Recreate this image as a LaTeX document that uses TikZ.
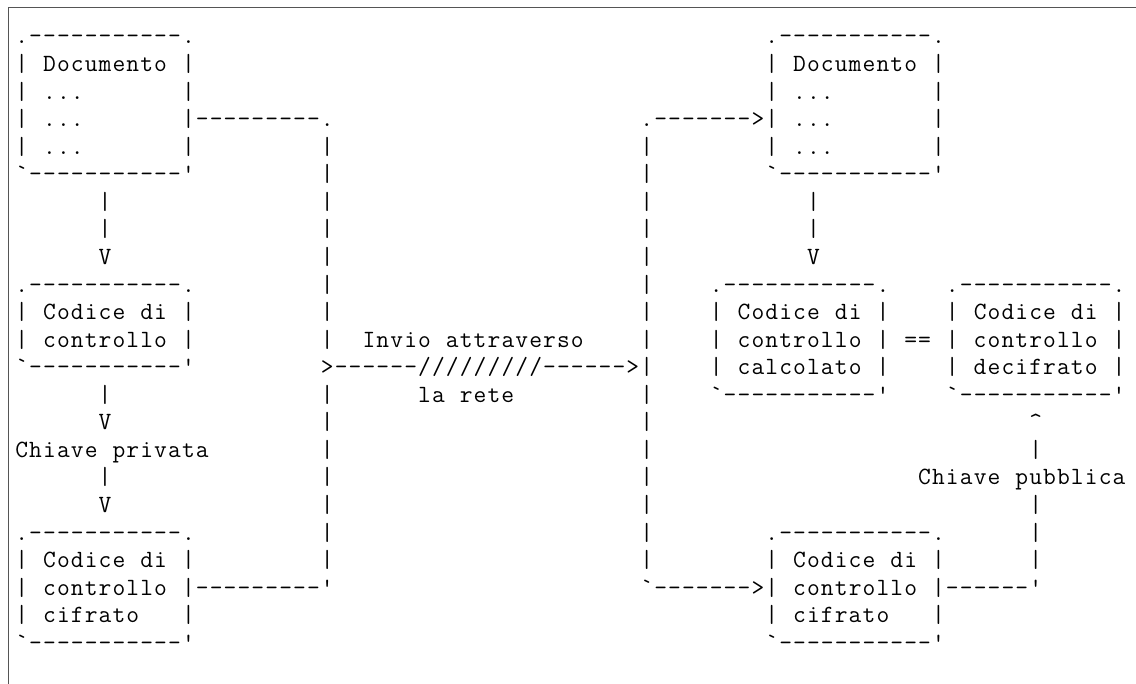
\documentclass[tikz,border=0pt]{standalone}
\usepackage{tikz}
\makeatletter
\newlength{\cw}\setlength{\cw}{6.945pt}
\newcommand{\ascii}[1]{\@tfor\asc@c:=#1\do{\makebox[\cw][c]{\asc@c}}}
\newcommand{\salta}[1]{\hspace*{#1\cw}}
\makeatother
\definecolor{cframe}{HTML}{555555}
\tikzset{
  riga/.style={inner sep=0pt, outer sep=0pt, anchor=base west, font=\fontsize{12.4}{13.78}\selectfont\ttfamily},
  cornice/.style={draw=cframe, line width=0.6pt},
}
\begin{document}
\begin{tikzpicture}[x=6.945pt,y=-13.78pt]
\useasboundingbox (-1.0655,-1.5965) rectangle (80.72,23.222);
\draw[cornice] (80.72,-1.331) -- (-0.468,-1.331) -- (-0.468,23.222);
\node[riga] (r0) at (0,0) {\ascii{.-----------.}\salta{41}\ascii{.-----------.}};
\node[riga] (r1) at (0,1) {\ascii{|~Documento~|}\salta{41}\ascii{|~Documento~|}};
\node[riga] (r2) at (0,2) {\ascii{|~...~~~~~~~|}\salta{41}\ascii{|~...~~~~~~~|}};
\node[riga] (r3) at (0,3) {\ascii{|~...~~~~~~~|---------.}\salta{22}\ascii{.------->|~...~~~~~~~|}};
\node[riga] (r4) at (0,4) {\ascii{|~...~~~~~~~|}\salta{9}\ascii{|}\salta{22}\ascii{|}\salta{8}\ascii{|~...~~~~~~~|}};
\node[riga] (r5) at (0,5) {\ascii{`-----------'}\salta{9}\ascii{|}\salta{22}\ascii{|}\salta{8}\ascii{`-----------'}};
\node[riga] (r6) at (0,6) {\salta{6}\ascii{|}\salta{15}\ascii{|}\salta{22}\ascii{|}\salta{11}\ascii{|}};
\node[riga] (r7) at (0,7) {\salta{6}\ascii{|}\salta{15}\ascii{|}\salta{22}\ascii{|}\salta{11}\ascii{|}};
\node[riga] (r8) at (0,8) {\salta{6}\ascii{V}\salta{15}\ascii{|}\salta{22}\ascii{|}\salta{11}\ascii{V}};
\node[riga] (r9) at (0,9) {\ascii{.-----------.}\salta{9}\ascii{|}\salta{22}\ascii{|}\salta{4}\ascii{.-----------.}\salta{4}\ascii{.-----------.}};
\node[riga] (r10) at (0,10) {\ascii{|~Codice~di~|}\salta{9}\ascii{|}\salta{22}\ascii{|}\salta{4}\ascii{|~Codice~di~|}\salta{4}\ascii{|~Codice~di~|}};
\node[riga] (r11) at (0,11) {\ascii{|~controllo~|}\salta{9}\ascii{|}\salta{2}\ascii{Invio~attraverso}\salta{4}\ascii{|}\salta{4}\ascii{|~controllo~|~==~|~controllo~|}};
\node[riga] (r12) at (0,12) {\ascii{`-----------'}\salta{9}\ascii{>------/////////------>|}\salta{4}\ascii{|~calcolato~|}\salta{4}\ascii{|~decifrato~|}};
\node[riga] (r13) at (0,13) {\salta{6}\ascii{|}\salta{15}\ascii{|}\salta{6}\ascii{la~rete}\salta{9}\ascii{|}\salta{4}\ascii{`-----------'}\salta{4}\ascii{`-----------'}};
\node[riga] (r14) at (0,14) {\salta{6}\ascii{V}\salta{15}\ascii{|}\salta{22}\ascii{|}\salta{27}\ascii{\textasciicircum}};
\node[riga] (r15) at (0,15) {\ascii{Chiave~privata}\salta{8}\ascii{|}\salta{22}\ascii{|}\salta{27}\ascii{|}};
\node[riga] (r16) at (0,16) {\salta{6}\ascii{|}\salta{15}\ascii{|}\salta{22}\ascii{|}\salta{19}\ascii{Chiave~pubblica}};
\node[riga] (r17) at (0,17) {\salta{6}\ascii{V}\salta{15}\ascii{|}\salta{22}\ascii{|}\salta{27}\ascii{|}};
\node[riga] (r18) at (0,18) {\ascii{.-----------.}\salta{9}\ascii{|}\salta{22}\ascii{|}\salta{8}\ascii{.-----------.}\salta{6}\ascii{|}};
\node[riga] (r19) at (0,19) {\ascii{|~Codice~di~|}\salta{9}\ascii{|}\salta{22}\ascii{|}\salta{8}\ascii{|~Codice~di~|}\salta{6}\ascii{|}};
\node[riga] (r20) at (0,20) {\ascii{|~controllo~|---------'}\salta{22}\ascii{`------->|~controllo~|------'}};
\node[riga] (r21) at (0,21) {\ascii{|~cifrato~~~|}\salta{41}\ascii{|~cifrato~~~|}};
\node[riga] (r22) at (0,22) {\ascii{`-----------'}\salta{41}\ascii{`-----------'}};
\end{tikzpicture}
\end{document}
